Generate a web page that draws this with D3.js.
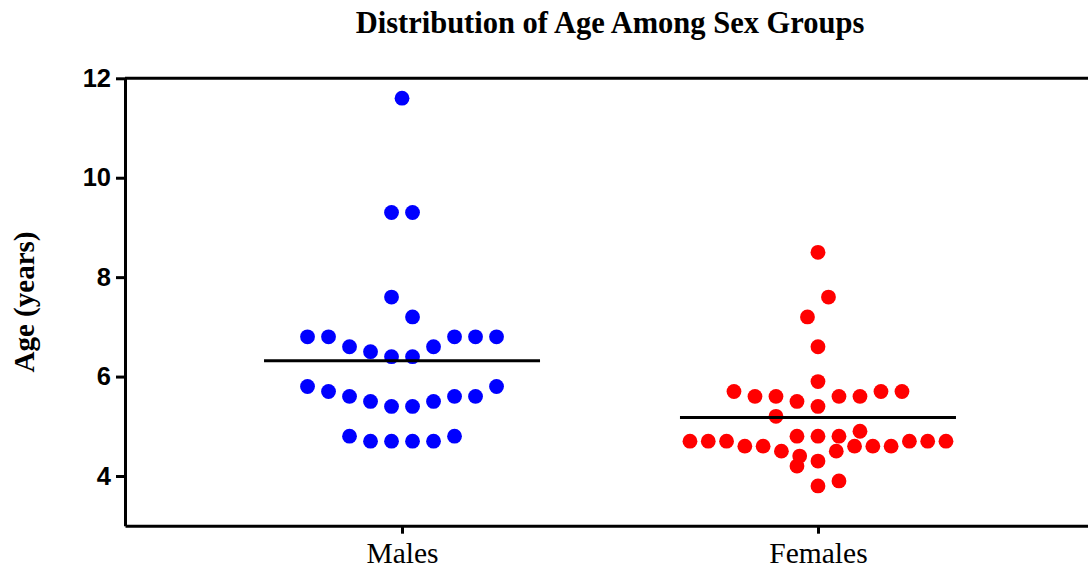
<!DOCTYPE html>
<html>
<head>
<meta charset="utf-8">
<style>
  body { margin: 0; background: #fff; }
  .serif { font-family: "Liberation Serif", "Times New Roman", serif; }
</style>
</head>
<body>
<svg id="chart"></svg>
<script src="https://d3js.org/d3.v7.min.js"></script>
<script>
// ages, one value per dot, in entry order
const males = [4.7, 4.7, 4.7, 4.7, 4.8, 4.8,
  5.4, 5.4, 5.5, 5.5, 5.6, 5.6, 5.7, 5.6, 5.8, 5.8,
  6.4, 6.4, 6.5, 6.6, 6.6, 6.8, 6.8, 6.8, 6.8, 6.8,
  7.6, 7.2, 9.3, 9.3, 11.6];
const females = [3.8, 4.2, 3.9,
  4.3, 4.4, 4.5, 4.5, 4.6, 4.6, 4.6, 4.6, 4.6, 4.7, 4.7, 4.7, 4.7, 4.7, 4.7,
  4.8, 4.8, 4.8, 5.2, 4.9,
  5.4, 5.5, 5.6, 5.6, 5.6, 5.6, 5.7, 5.7, 5.7,
  5.9, 6.6, 7.2, 7.6, 8.5];
const groups = ["Males", "Females"];
const groupColors = ["#0000ff", "#ff0000"];
const yTicks = [4, 6, 8, 10, 12];
const title = "Distribution of Age Among Sex Groups";
const yLabel = "Age (years)";

const width = 1088, height = 569;
const plotLeft = 125, plotRight = 1095, plotTop = 78.3, plotBottom = 525.7;
const r = 7.4;          // dot radius
const dotStep = 21;     // horizontal spacing of dots in a row
const maxHalf = 128;    // widest a row may spread from the column centre
const rowTol = 0.45;    // values closer than this share a row
const meanHalf = 138;

const svg = d3.select("#chart").attr("width", width).attr("height", height);

const x = d3.scalePoint().domain(groups).range([plotLeft, plotRight]).padding(0.666);
const y = d3.scaleLinear().domain([3, 12]).range([plotBottom, plotTop]);

// prism-like scatter: bin into rows by value, then fill each row from the
// middle outwards (left first) in entry order
function swarm(values) {
  const order = d3.range(values.length).sort((a, b) => values[a] - values[b]);
  const rows = [];
  order.forEach(i => {
    const row = rows[rows.length - 1];
    if (row && values[i] - values[row[0]] < rowTol) row.push(i); else rows.push([i]);
  });
  const out = [];
  rows.forEach(row => {
    const start = values[row[0]];
    row.sort(d3.ascending);
    const n = row.length;
    const maxSlot = (n - 1) / 2;
    const step = maxSlot > 0 ? Math.min(dotStep, maxHalf / maxSlot) : dotStep;
    row.forEach((idx, i) => {
      let slot;
      if (n % 2) slot = i % 2 ? -(i + 1) / 2 : i / 2;
      else slot = i % 2 ? (i - 1) / 2 + 0.5 : -(i / 2 + 0.5);
      out.push({ v: values[idx], dx: slot * step });
    });
  });
  return out;
}

const series = [males, females];

// frame: top line
svg.append("line")
  .attr("x1", plotLeft).attr("x2", plotRight)
  .attr("y1", y(12)).attr("y2", y(12))
  .attr("stroke", "#000").attr("stroke-width", 3);

const yAxis = svg.append("g")
  .attr("transform", `translate(${plotLeft},0)`)
  .call(d3.axisLeft(y).tickValues(yTicks).tickSize(9).tickSizeOuter(0).tickPadding(5));
yAxis.selectAll("path, line").attr("stroke", "#000").attr("stroke-width", 3);
yAxis.selectAll("text")
  .attr("font-family", "'Liberation Sans', Arial, sans-serif")
  .attr("font-weight", "bold").attr("font-size", 25.5).attr("fill", "#000");

const xAxis = svg.append("g")
  .attr("transform", `translate(0,${plotBottom})`)
  .call(d3.axisBottom(x).tickSize(8).tickSizeOuter(0).tickPadding(8));
xAxis.selectAll("path, line").attr("stroke", "#000").attr("stroke-width", 3);
xAxis.selectAll("text")
  .attr("font-family", "'Liberation Serif', 'Times New Roman', serif")
  .attr("font-size", 29.5).attr("fill", "#000");

// dots
groups.forEach((g, gi) => {
  const cx = x(g);
  svg.append("g").selectAll("circle")
    .data(swarm(series[gi]))
    .join("circle")
    .attr("cx", d => cx + d.dx)
    .attr("cy", d => y(d.v))
    .attr("r", r)
    .attr("fill", groupColors[gi]);
});

// mean lines
svg.append("g").selectAll("line")
  .data(groups)
  .join("line")
  .attr("x1", g => x(g) - meanHalf)
  .attr("x2", g => x(g) + meanHalf)
  .attr("y1", (g, i) => y(d3.mean(series[i])))
  .attr("y2", (g, i) => y(d3.mean(series[i])))
  .attr("stroke", "#000").attr("stroke-width", 3);

svg.append("text")
  .attr("class", "serif")
  .attr("x", (plotLeft + plotRight) / 2).attr("y", 33)
  .attr("text-anchor", "middle")
  .attr("font-weight", "bold").attr("font-size", 30.5)
  .text(title);

svg.append("text")
  .attr("class", "serif")
  .attr("transform", "rotate(-90)")
  .attr("x", -(plotTop + plotBottom) / 2).attr("y", 34)
  .attr("text-anchor", "middle")
  .attr("font-weight", "bold").attr("font-size", 29)
  .text(yLabel);
</script>
</body>
</html>
